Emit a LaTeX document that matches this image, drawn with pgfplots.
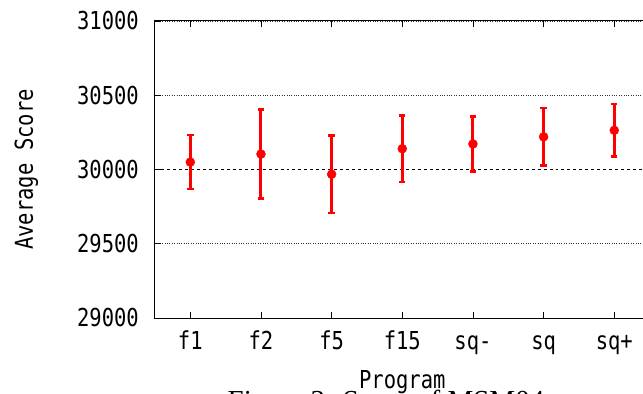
\documentclass[border=0pt]{standalone}
\usepackage{fontspec}
\usepackage{pgfplots}
\pgfplotsset{compat=1.18}
\newfontfamily\gothic[FakeStretch=0.83]{DejaVu Sans Mono}
\newfontfamily\capfont{Liberation Serif}
\newcommand\lblfont{\gothic\fontsize{24.7bp}{28bp}\selectfont}
\begin{document}
\begin{tikzpicture}
\begin{axis}[
  scale only axis,
  width=494.6bp, height=297bp,
  xmin=-0.5, xmax=6.5,
  ymin=29000, ymax=31000,
  scaled y ticks=false,
  xtick={0,1,2,3,4,5,6},
  xticklabels={f1,f2,f5,f15,sq-,sq,sq+},
  ytick={29000,29500,30500,31000},
  extra y ticks={30000},
  extra y tick style={grid style={dashed, black, line width=0.9bp}},
  ymajorgrids,
  grid style={dotted, black!80, line width=0.9bp},
  tick align=inside,
  major tick length=6bp,
  xtick pos=both,
  ytick pos=both,
  tick style={black, line width=0.8bp},
  axis line style={black, line width=1bp},
  /pgf/number format/assume math mode=true,
  /pgf/number format/set thousands separator={},
  every tick label/.append style={font=\lblfont},
  yticklabel style={anchor=east, inner sep=0pt, xshift=-16bp},
  xticklabel style={anchor=base, inner sep=0pt, yshift=-31bp},
  xlabel={Program},
  ylabel={Average Score},
  every axis x label/.style={at={(axis description cs:0.5,-0.2357)}, anchor=base, inner sep=0pt, font=\lblfont},
  every axis y label/.style={at={(axis description cs:-0.2467,0.5)}, rotate=90, anchor=base, inner sep=0pt, font=\lblfont},
  clip=false,
]
\addplot[red, only marks, mark=*, mark size=4.5bp,
  mark options={red, fill=red},
  error bars/.cd, y dir=both, y explicit,
  error bar style={line width=3bp, red},
  error mark options={mark size=3.2bp, line width=2.6bp, red, rotate=90}]
  coordinates {
  (0,30050) +- (0,182)
  (1,30104) +- (0,300)
  (2,29968) +- (0,262)
  (3,30140) +- (0,224)
  (4,30172) +- (0,186)
  (5,30220) +- (0,194)
  (6,30264) +- (0,178)
  };
\end{axis}
\node[anchor=base, inner sep=0pt, font=\capfont\fontsize{29bp}{32bp}\selectfont] at (231bp,-92.5bp) {Figure 3: Score of MSM04};
\pgfresetboundingbox
\useasboundingbox (-155bp,-76bp) rectangle (488bp,318bp);
\end{tikzpicture}
\end{document}
